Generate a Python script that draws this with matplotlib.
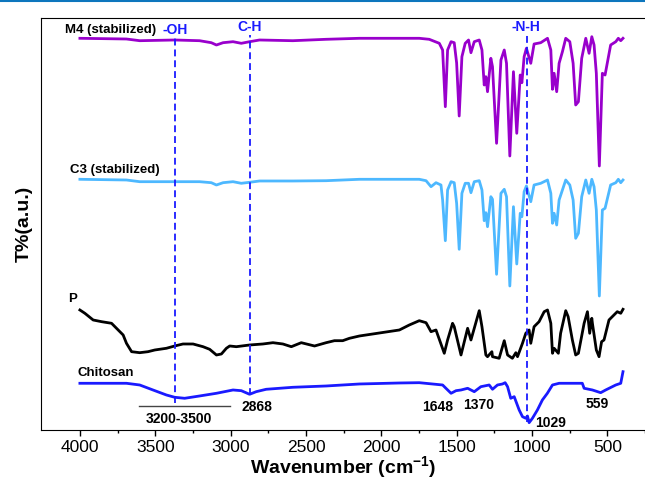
#!/usr/bin/python3

# FTIR spectra of chitosan, P, C3 and M4, stacked with offsets

import matplotlib
matplotlib.use('Agg')
import matplotlib.pyplot as plt
from matplotlib.lines import Line2D

plt.rcParams['font.family'] = 'Liberation Sans'
plt.rcParams['mathtext.fontset'] = 'custom'
plt.rcParams['mathtext.rm'] = 'Liberation Sans'
plt.rcParams['mathtext.bf'] = 'Liberation Sans:bold'

# Spectra (wavenumber in cm-1, transmittance in a.u., stacked)
m4_wn = [4000, 3691, 3603, 3371, 3206, 3128, 3094, 3050, 2984, 2929, 2874, 2808, 2587, 2366,
         2145, 1880, 1748, 1682, 1615, 1593, 1575, 1560, 1537, 1516, 1500, 1483, 1465, 1443,
         1421, 1405, 1383, 1350, 1332, 1317, 1306, 1295, 1273, 1262, 1235, 1206, 1184, 1169,
         1147, 1123, 1101, 1078, 1067, 1052, 1037, 1008, 986, 942, 897, 875, 864, 853, 836,
         820, 798, 776, 749, 727, 710, 692, 670, 643, 621, 603, 588, 573, 553, 533, 515, 478,
         444, 427, 411, 396]
m4_t = [391.7, 391, 389.3, 390, 389.3, 387.3, 385, 387.3, 388.3, 386.7, 388.3, 390, 389.3,
        390.7, 391.7, 391.7, 391.7, 390.7, 386.7, 380, 323.3, 380, 388.3, 387.3, 367, 314,
        373.3, 386.7, 390, 377.3, 388.3, 390, 380, 345, 353.3, 338.3, 371.7, 363.3, 286.7,
        370, 380, 366.7, 274, 358.3, 296.7, 355, 347.3, 373.3, 381.7, 366.7, 386, 387.3,
        391.7, 380, 340.7, 356.7, 338.3, 366.7, 378.3, 391.7, 388.3, 366.7, 325, 328.3,
        371.7, 391.7, 376.7, 393.3, 385, 356.7, 264, 356.7, 355, 385, 388.3, 391.7, 389.3,
        391.7]

c3_wn = [4000, 3691, 3603, 3371, 3206, 3128, 3094, 3050, 2984, 2929, 2874, 2808, 2587, 2366,
         2145, 1880, 1748, 1703, 1670, 1637, 1604, 1593, 1575, 1560, 1537, 1516, 1500, 1483,
         1465, 1443, 1421, 1405, 1383, 1350, 1332, 1317, 1306, 1295, 1273, 1262, 1235, 1206,
         1184, 1169, 1147, 1123, 1101, 1078, 1067, 1052, 1037, 1008, 986, 942, 897, 875, 864,
         853, 836, 820, 798, 776, 749, 727, 710, 692, 670, 643, 621, 603, 588, 573, 553, 533,
         515, 478, 444, 427, 411, 396]
c3_t = [250.7, 250, 248.3, 248.3, 248.3, 247.3, 245, 247.3, 248.3, 246.7, 247.7, 249, 249,
        249.3, 250.7, 250.7, 250.7, 249.3, 243.3, 247.3, 245, 230, 189.3, 240, 248.3, 247.3,
        226.7, 180.7, 236.7, 246.7, 246.7, 237.3, 248.3, 249.3, 240, 209.3, 217.3, 203.3,
        233.3, 230.7, 155.7, 236.7, 240.7, 233.3, 144, 223.3, 166, 216.7, 213.3, 238.3, 244,
        228.3, 245, 246.7, 250, 236.7, 206.7, 216.7, 205, 230, 240, 250, 245, 230, 191.7,
        196.7, 233.3, 250, 236.7, 250.7, 243.3, 220, 134, 220, 221.7, 245, 247.3, 250.7,
        247.3, 250]

p_wn = [4000, 3967, 3912, 3856, 3790, 3746, 3713, 3691, 3657, 3603, 3548, 3503, 3426, 3371,
        3316, 3249, 3183, 3139, 3094, 3061, 3028, 3006, 2962, 2874, 2786, 2719, 2653, 2597,
        2531, 2443, 2366, 2311, 2256, 2211, 2145, 1880, 1814, 1748, 1703, 1670, 1637, 1582,
        1560, 1527, 1516, 1471, 1427, 1405, 1350, 1332, 1306, 1295, 1266, 1262, 1218, 1184,
        1162, 1130, 1107, 1096, 1063, 1041, 1019, 1008, 986, 953, 919, 897, 875, 864, 853,
        825, 810, 776, 760, 732, 710, 692, 654, 632, 617, 603, 599, 573, 555, 538, 522, 489,
        456, 434, 411, 396]
p_t = [120, 116.7, 110, 108.3, 106.7, 100, 95, 86.7, 78.3, 77.3, 78.3, 80, 81.7, 84, 86, 86,
       83.3, 80.7, 75, 76, 81.7, 84, 83.3, 85, 86, 87.3, 86, 83.3, 87.3, 84, 87.3, 89.3, 89.3,
       91.7, 94, 100, 105, 109.3, 107.3, 98.3, 100, 76.7, 90, 106.7, 103.3, 75, 101.7, 90,
       119.3, 103.3, 75, 73.3, 78.3, 73.3, 71.7, 89.3, 75, 71.7, 77.3, 73.3, 86.7, 96.7, 100,
       86.7, 103.3, 108.3, 118.3, 120, 106.7, 76.7, 81.7, 76.7, 96.7, 119.3, 113.3, 90, 75,
       76.7, 106.7, 118.3, 96.7, 111.7, 106.7, 80, 73.3, 88.3, 90, 110, 115, 118.3, 116.7,
       120.7]

chit_wn = [4000, 3691, 3603, 3515, 3426, 3371, 3305, 3206, 3094, 2984, 2929, 2874, 2830, 2764,
           2587, 2366, 2145, 1880, 1748, 1593, 1571, 1537, 1504, 1471, 1427, 1383, 1339, 1284,
           1262, 1229, 1196, 1178, 1162, 1141, 1118, 1085, 1063, 1041, 1030, 1019, 997, 964,
           931, 898, 864, 820, 666, 654, 599, 544, 511, 444, 411, 396]
chit_t = [46.7, 46.7, 45, 40, 35, 32.7, 31.7, 34, 36.7, 40, 39.3, 35.7, 38.3, 40.7, 42.7, 44,
          46, 47, 47.3, 45, 41.7, 36.7, 39.3, 40, 41.7, 38.3, 43.3, 45, 40.7, 45, 46, 47.3,
          43.3, 31.7, 33.3, 20, 13.3, 11.7, 14, 7.3, 11.7, 20, 30, 36.7, 45, 46.7, 46.7, 41.7,
          40, 37.3, 40, 45, 46.7, 58.3]

# band markers: position, label, dashed span
band_wn = [3371, 2874, 1032]
band_names = ['-OH', 'C-H', '-N-H']
band_lo = [27, 35, 8]
band_hi = [395, 395, 397]

# peak numbers written near the chitosan curve
peak_names = ['3200-3500', '2868', '1648', '1370', '1029', '559']
peak_wn = [3341, 2827, 1626, 1352, 875, 566]
peak_t = [11, 23, 23, 25, 7, 26]

fig = plt.figure(figsize=(6.45, 4.8), dpi=100)
ax = fig.add_axes([0.0636, 0.1042, 0.9364, 0.8583])

ax.plot(m4_wn, m4_t, color='#9900cc', lw=2)
ax.plot(c3_wn, c3_t, color='#4db8ff', lw=2)
ax.plot(p_wn, p_t, color='black', lw=2)
ax.plot(chit_wn, chit_t, color='#1a1aff', lw=2)

for wn, name, lo, hi in zip(band_wn, band_names, band_lo, band_hi):
    ax.plot([wn, wn], [lo, hi], color='#1a1aff', lw=1.3, linestyle=(0, (3.8, 2.2)))
ax.text(3452, 400, '-OH', color='#1a1aff', fontsize=10, fontweight='bold', ha='left', va='center')
ax.text(2874, 403, 'C-H', color='#1a1aff', fontsize=10, fontweight='bold', ha='center', va='center')
ax.text(1041, 403, '-N-H', color='#1a1aff', fontsize=10, fontweight='bold', ha='center', va='center')

# sample names
ax.text(4099, 400, 'M4 (stabilized)', fontsize=9.5, fontweight='bold', ha='left', va='center')
ax.text(4066, 260, 'C3 (stabilized)', fontsize=9.5, fontweight='bold', ha='left', va='center')
ax.text(4080, 131, 'P', fontsize=9.5, fontweight='bold', ha='left', va='center')
ax.text(4018, 57, 'Chitosan', fontsize=9.5, fontweight='bold', ha='left', va='center')

for name, wn, t in zip(peak_names, peak_wn, peak_t):
    ax.text(wn, t, name, fontsize=10, fontweight='bold', ha='center', va='center')
ax.plot([3607, 3002], [24, 24], color='#444444', lw=1)

ax.set_xlim(4258, 257)
ax.set_ylim(0, 412)
ax.set_xticks([4000, 3500, 3000, 2500, 2000, 1500, 1000, 500])
ax.set_xticks([3750, 3250, 2750, 2250, 1750, 1250, 750, 250], minor=True)
ax.set_yticks([])
ax.tick_params(axis='x', which='major', direction='out', length=4, width=1, labelsize=12.5, pad=3)
ax.tick_params(axis='x', which='minor', direction='out', length=2.5, width=1)
ax.spines['right'].set_visible(False)

ax.set_xlabel(r'Wavenumber (cm$^{\mathbf{-1}}$)', fontsize=14, fontweight='bold', labelpad=0)
ax.set_ylabel('T%(a.u.)', fontsize=14, fontweight='bold', labelpad=6)

# journal page rule along the top
fig.add_artist(Line2D([0, 1], [0.997, 0.997], transform=fig.transFigure, color='#0d76bd', lw=1.5))

plt.savefig('out.png', dpi=100)
